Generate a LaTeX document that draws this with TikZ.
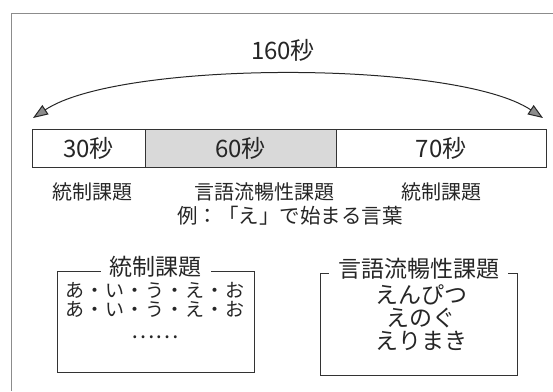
\documentclass[tikz,border=0pt]{standalone}
\usepackage{fontspec}
\newfontfamily\jp{Noto Sans CJK JP}
\usetikzlibrary{arrows.meta}
\newcommand{\fs}[1]{\fontsize{#1}{#1}\selectfont}
\newcommand{\gp}{\hspace{1pt}}
\begin{document}
\begin{tikzpicture}[x=1pt,y=-1pt,
  txt/.style={font=\jp\fs{20}, text=black!85, inner sep=0pt},
  barlbl/.style={font=\jp\fs{24}, text=black!85, inner sep=0pt},
  seg/.style={draw=black!80, line width=0.9pt, minimum height=38pt, inner sep=0pt, outer sep=0pt},
  boxfr/.style={draw=black!80, line width=0.9pt, minimum width=197pt, inner sep=0pt, outer sep=0pt},
  boxtitle/.style={font=\jp\fs{23}, text=black!85, fill=white, inner xsep=9pt, inner ysep=1pt},
  kana/.style={font=\jp\fs{19}, text=black!85, inner sep=0pt},
  kanab/.style={font=\jp\fs{23}, text=black!85, inner sep=0pt},
  frameline/.style={draw=black!45, line width=0.8pt},
  dblarrow/.style={draw=black!85, line width=1pt, {Triangle[length=15pt,width=11pt,fill=black!45]}-{Triangle[length=15pt,width=11pt,fill=black!45]}}
]
\useasboundingbox (0,0) rectangle (553,391);
% outer frame (open at right and bottom)
\draw[frameline] (553,13) -- (11,13) -- (11,391);

% time bar
\node[seg, minimum width=113pt] (s1) at (88.5,148) {};
\node[seg, minimum width=191pt, fill=black!15] (s2) at (240.5,148) {};
\node[seg, minimum width=210pt] (s3) at (441,148) {};
\node[barlbl] (l1) at (s1.center) {30秒};
\node[barlbl] (l2) at (s2.center) {60秒};
\node[barlbl] (l3) at (s3.center) {70秒};

% arrow over whole span
\coordinate (la) at (33,118);
\coordinate (ra) at (543,118);
\draw[dblarrow] (la) .. controls (120,60) and (456,60) .. (ra);
\node[barlbl] (total) at (283,50) {160秒};

% task labels
\node[txt] (t1) at (92,192) {統制課題};
\node[txt] (t2) at (264,192) {言語流暢性課題};
\node[txt] (t3) at (441,192) {統制課題};
\node[txt, font=\jp\fs{20.5}] (ex) at (290,216) {例：「え」で始まる言葉};

% left box
\node[boxfr, minimum height=101pt] (lb) at (155.5,321.5) {};
\node[boxtitle] (lbt) at (155.5,267) {統制課題};
\node[kana] (la1) at (155,290) {あ\gp・\gp い\gp・\gp う\gp・\gp え\gp・\gp お};
\node[kana] (la2) at (155,309) {あ\gp・\gp い\gp・\gp う\gp・\gp え\gp・\gp お};
\node[kanab, font=\jp\fs{22}, text height=4pt, text depth=0pt] (la3) at (155,336) {……};

% right box
\node[boxfr, minimum height=102pt] (rb) at (418.5,324) {};
\node[boxtitle] (rbt) at (418.5,269) {言語流暢性課題};
\node[kanab] (rb1) at (421,295) {えんぴつ};
\node[kanab] (rb2) at (421,318) {えのぐ};
\node[kanab] (rb3) at (421,341) {えりまき};
\end{tikzpicture}
\end{document}
